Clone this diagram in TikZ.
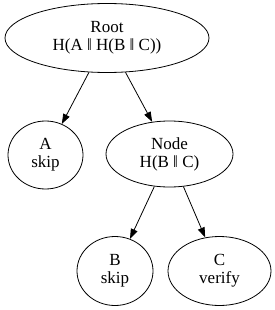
\documentclass[tikz,border=0pt]{standalone}
\usepackage{fontspec}
\setmainfont{Liberation Serif}
\usetikzlibrary{arrows.meta, shapes.geometric}

\begin{document}
\begin{tikzpicture}[
    x=1pt, y=-1pt,
    every node/.style={font=\fontsize{17}{18}\selectfont},
    vert/.style={draw, ellipse, line width=0.8pt, inner sep=0pt, align=center},
    edge/.style={->, line width=0.8pt},
    >={Triangle[length=10pt, width=7pt]},
  ]
  \useasboundingbox (0,0) rectangle (275,310);

  \node[vert, minimum width=204pt, minimum height=69pt] (root) at (107, 38)    {Root\\H(A ‖ H(B ‖ C))};
  \node[vert, minimum width=75pt,  minimum height=68pt] (a)    at (45.5, 155)  {A\\skip};
  \node[vert, minimum width=127pt, minimum height=66pt] (mid)  at (169.5, 154) {Node\\H(B ‖ C)};
  \node[vert, minimum width=76pt,  minimum height=69pt] (b)    at (115, 271)   {B\\skip};
  \node[vert, minimum width=103pt, minimum height=69pt] (c)    at (219.5, 271) {C\\verify};

  \draw[edge] (root) -- (a);
  \draw[edge] (root) -- (mid);
  \draw[edge] (mid) -- (b);
  \draw[edge] (mid) -- (c);
\end{tikzpicture}
\end{document}
